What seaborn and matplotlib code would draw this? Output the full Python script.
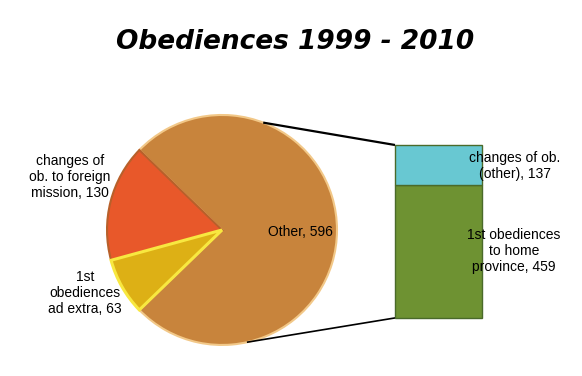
import numpy as np
import matplotlib
matplotlib.use("Agg")
import matplotlib.pyplot as plt
import seaborn as sns

# data
pie_labels = ["Other", "changes of\nob. to foreign\nmission", "1st\nobediences\nad extra"]
pie_values = [596, 130, 63]
bar_labels = ["1st obediences\nto home\nprovince", "changes of ob.\n(other)"]
bar_values = [459, 137]

pie_colors = ["#C8843C", "#E8582A", "#DDB015"]
pie_edges = ["#F2C888", "#B8602A", "#F8E840"]
bar_colors = ["#6E9232", "#68C8D2"]

sns.set_theme(style="white")
plt.rcParams["font.family"] = ["Liberation Sans", "DejaVu Sans"]
plt.rcParams["text.color"] = "black"

fig = plt.figure(figsize=(5.82, 3.76), dpi=100)
ax = fig.add_axes([0, 0, 1, 1])

# pie (other slice centred on the right)
other_angle = 360 * pie_values[0] / sum(pie_values)
start = -other_angle / 2
wedges, _ = ax.pie(pie_values, colors=pie_colors, startangle=start,
                   center=(0, 0), radius=1, counterclock=True,
                   wedgeprops=dict(linewidth=1.5))
for w, ec in zip(wedges, pie_edges):
    w.set_edgecolor(ec)
wedges[2].set_linewidth(2.2)

# bar of the "other" slice
scale = 1.504 / sum(bar_values)
bar_x, bar_w, bar_bottom = 1.883, 0.757, -0.765
bottoms = bar_bottom + scale * np.concatenate([[0], np.cumsum(bar_values)[:-1]])
ax.bar([bar_x] * len(bar_values), [v * scale for v in bar_values], width=bar_w,
       bottom=bottoms, color=bar_colors, edgecolor="#4A6A2A", linewidth=1)
bar_top = bar_bottom + scale * sum(bar_values)

# connector lines
a_top, a_bot = np.radians(69), np.radians(-77.5)
ax.plot([np.cos(a_top), bar_x - bar_w / 2], [np.sin(a_top), bar_top],
        color="black", lw=1.6, solid_capstyle="butt")
ax.plot([np.cos(a_bot), bar_x - bar_w / 2], [np.sin(a_bot), bar_bottom],
        color="black", lw=1.2, solid_capstyle="butt")

# labels
fs = 10
kw = dict(ha="center", va="center", fontsize=fs, multialignment="center",
          linespacing=1.2, color="black")
ax.text(0.678, -0.017, f"{pie_labels[0]}, {pie_values[0]}", **kw)
ax.text(-1.322, 0.461, f"{pie_labels[1]}, {pie_values[1]}", **kw)
ax.text(-1.191, -0.548, f"{pie_labels[2]}, {pie_values[2]}", **kw)
ax.text(2.548, 0.557, f"{bar_labels[1]}, {bar_values[1]}", **kw)
ax.text(2.539, -0.183, f"{bar_labels[0]}, {bar_values[0]}", **kw)

fig.text(0.507, 0.888, "Obediences 1999 - 2010", ha="center", va="center",
         fontsize=19, fontweight="bold", fontstyle="italic", color="black",
         family=["DejaVu Sans"])

ax.set_xlim(-1.930, 3.130)
ax.set_ylim(-1.270, 2.0)
ax.set_aspect("equal")
ax.axis("off")

fig.savefig("out.png", dpi=100)
